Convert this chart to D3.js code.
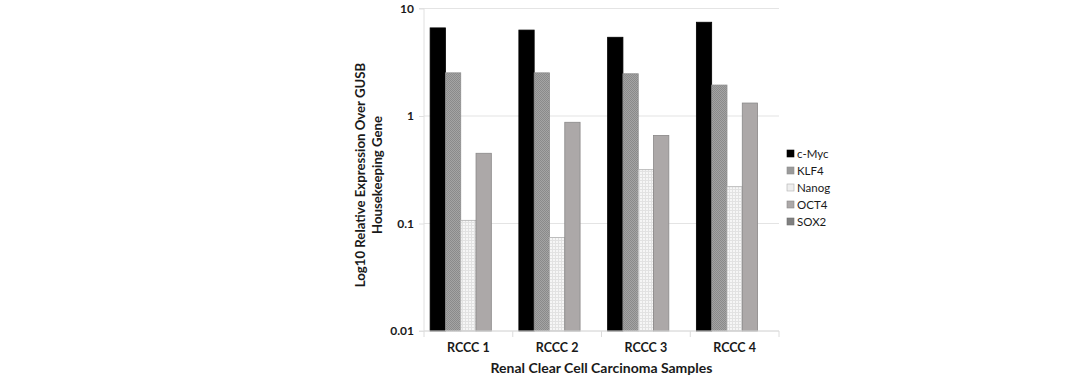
<!DOCTYPE html>
<html><head><meta charset="utf-8">
<script src="https://cdn.jsdelivr.net/npm/d3@7"></script>
<style>body{margin:0;background:#fff}svg{display:block}</style>
</head><body>
<svg id="c" width="1090" height="378"></svg>
<script>
const categories = ["RCCC 1","RCCC 2","RCCC 3","RCCC 4"];
const seriesNames = ["c-Myc","KLF4","Nanog","OCT4","SOX2"];
const cMyc  = [6.6, 6.3, 5.4, 7.45];
const KLF4  = [2.52, 2.52, 2.47, 1.94];
const Nanog = [0.107, 0.074, 0.317, 0.22];
const OCT4  = [0.45, 0.874, 0.66, 1.32];
const SOX2  = [null, null, null, null];
const yTicks = [0.01, 0.1, 1, 10];
const yTickLabels = ["0.01","0.1","1","10"];

const seriesValues = [cMyc, KLF4, Nanog, OCT4, SOX2];
const fills = ["#000000","url(#pKLF4)","url(#pNanog)","#aca8a8","#808080"];
const strokes = ["#000000","#8c8c8c","#b0b0b0","#8a8888","#707070"];
const legendFills = ["#000000","#9a9a9a","#eeeeee","#aca8a8","#808080"];

const svg = d3.select("#c");
const F = "Lato, 'Open Sans', sans-serif";
const defs = svg.append("defs");
const p1 = defs.append("pattern").attr("id","pKLF4").attr("patternUnits","userSpaceOnUse").attr("width",2).attr("height",2);
p1.append("rect").attr("width",2).attr("height",2).attr("fill","#a4a4a4");
p1.append("rect").attr("width",1).attr("height",1).attr("fill","#8a8a8a");
p1.append("rect").attr("x",1).attr("y",1).attr("width",1).attr("height",1).attr("fill","#8a8a8a");
const p2 = defs.append("pattern").attr("id","pNanog").attr("patternUnits","userSpaceOnUse").attr("width",3).attr("height",3);
p2.append("rect").attr("width",3).attr("height",3).attr("fill","#f6f6f6");
p2.append("rect").attr("width",3).attr("height",1).attr("fill","#e2e2e2");
p2.append("rect").attr("width",1).attr("height",3).attr("fill","#e2e2e2");

const L = 424, R = 779, T = 8.5, B = 331;
const y = d3.scaleLog().domain([0.01, 10]).range([B, T]);
const x0 = d3.scaleBand().domain(categories).range([L, R]).paddingInner(0).paddingOuter(0);
const x1 = d3.scaleBand().domain(seriesNames).range([0, x0.bandwidth()]).paddingInner(0).paddingOuter(0.4);

// gridlines
svg.append("g").selectAll("line").data(yTicks).join("line")
  .attr("x1", L).attr("x2", R).attr("y1", d => y(d)).attr("y2", d => y(d))
  .attr("stroke", "#e4e4e4").attr("stroke-width", 1.2);

// left axis
const yAxis = d3.axisLeft(y).tickValues(yTicks).tickFormat((d,i) => yTickLabels[i]).tickSize(5).tickPadding(5);
const gy = svg.append("g").attr("transform", `translate(${L},0)`).call(yAxis);
gy.select(".domain").attr("stroke", "#e0e0e0").attr("d", `M-5,${T}H0V${B}H-5`);
gy.selectAll(".tick line").attr("stroke", "#e0e0e0");
gy.selectAll(".tick text").attr("font-family", F).attr("font-weight", "bold").attr("font-size", 12).attr("fill", "#1a1a1a");

// bars
seriesNames.forEach((s, si) => {
  const vals = seriesValues[si];
  svg.append("g").selectAll("rect").data(categories.map((c, i) => ({c, v: vals[i]})).filter(d => d.v != null)).join("rect")
    .attr("x", d => x0(d.c) + x1(s))
    .attr("y", d => y(d.v))
    .attr("width", x1.bandwidth())
    .attr("height", d => B - y(d.v))
    .attr("fill", fills[si])
    .attr("stroke", strokes[si]).attr("stroke-width", 0.8);
});

// bottom axis
const xAxis = d3.axisBottom(x0).tickSize(0).tickPadding(12);
const gx = svg.append("g").attr("transform", `translate(0,${B})`).call(xAxis);
gx.select(".domain").attr("stroke", "#dcdcdc").attr("d", `M${L},0H${R}`);
gx.selectAll(".tick text").attr("font-family", F).attr("font-weight", "bold").attr("font-size", 12.5).attr("fill", "#1a1a1a");
svg.append("g").selectAll("line").data(categories.concat(["end"])).join("line")
  .attr("x1", (d,i) => L + i * x0.bandwidth()).attr("x2", (d,i) => L + i * x0.bandwidth())
  .attr("y1", B).attr("y2", B + 6).attr("stroke", "#dcdcdc");

// axis titles
svg.append("text").attr("x", (L + R) / 2).attr("y", 373).attr("text-anchor", "middle")
  .attr("font-family", F).attr("font-weight", "bold").attr("font-size", 14).attr("fill", "#1a1a1a")
  .text("Renal Clear Cell Carcinoma Samples");
const yt = svg.append("text").attr("transform", `translate(367,175) rotate(-90)`).attr("text-anchor", "middle")
  .attr("font-family", F).attr("font-weight", "bold").attr("font-size", 13.2).attr("fill", "#1a1a1a");
yt.append("tspan").attr("x", 0).attr("dy", "-0.15em").text("Log10 Relative Expression Over GUSB");
yt.append("tspan").attr("x", 0).attr("dy", "1.3em").text("Housekeeping Gene");

// legend
const lg = svg.append("g").attr("transform", "translate(787,154)");
const li = lg.selectAll("g").data(seriesNames).join("g").attr("transform", (d,i) => `translate(0,${i * 17})`);
li.append("rect").attr("x", 0).attr("y", -4).attr("width", 7).attr("height", 7)
  .attr("fill", (d,i) => legendFills[i]).attr("stroke", (d,i) => strokes[i]).attr("stroke-width", 0.6);
li.append("text").attr("x", 10).attr("y", 0).attr("dy", "0.35em")
  .attr("font-family", F).attr("font-size", 11.5).attr("fill", "#1a1a1a").text(d => d);
</script>
</body></html>
